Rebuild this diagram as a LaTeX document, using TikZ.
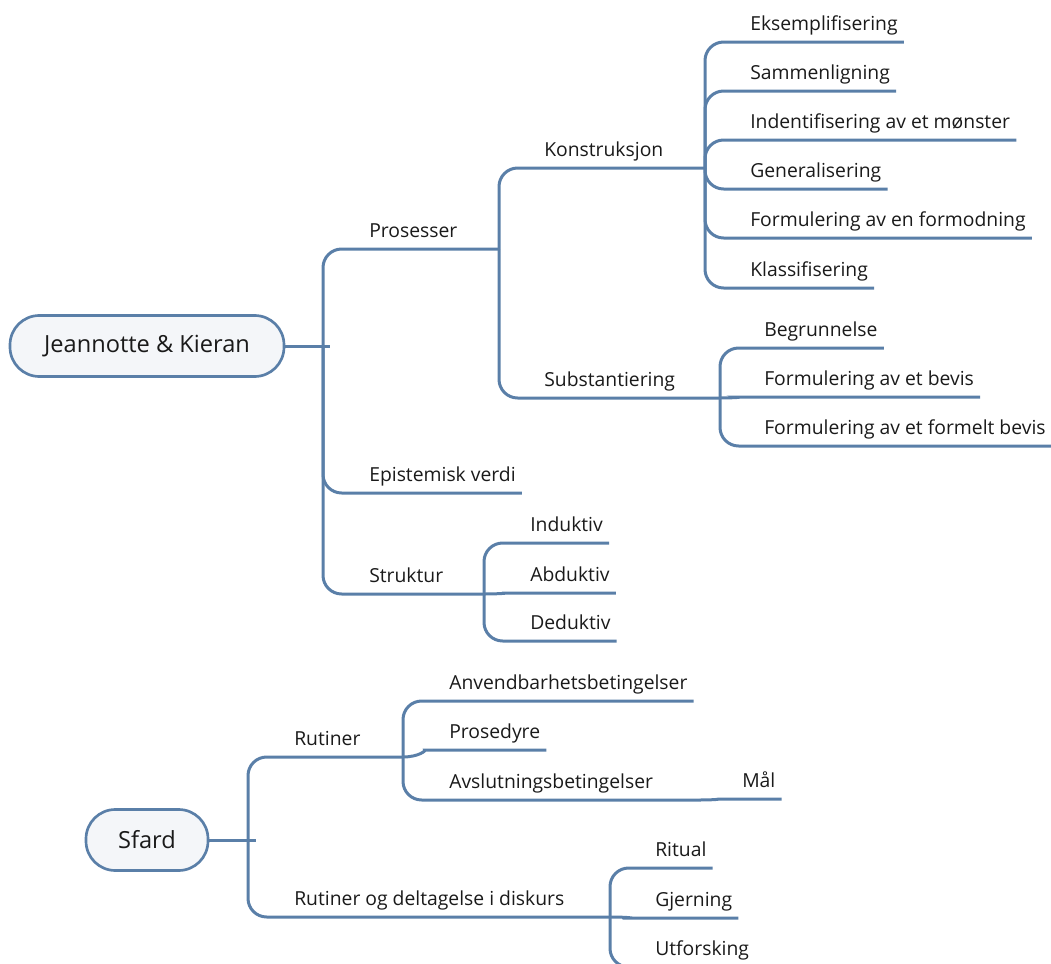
\documentclass[tikz,border=0pt]{standalone}
\usepackage{fontspec}
\setsansfont{Open Sans}
\usepackage{tikz}
\usetikzlibrary{positioning, calc}
\tikzset{every node/.style={font=\sffamily}}
\usepackage{xcolor}
\definecolor{mapblue}{HTML}{5A7FA8}
\definecolor{mapfill}{HTML}{F4F6F9}
\definecolor{mapink}{HTML}{1A1A1A}
\tikzset{
  rootbox/.style={draw=mapblue, fill=mapfill, line width=2pt, rounded corners=22pt,
    minimum height=45.75pt, text=mapink, font=\sffamily\fontsize{17.7}{21}\selectfont},
  topic/.style={anchor=south west, inner xsep=4.5pt, inner ysep=0pt, text depth=8.25pt,
    text=mapink, font=\sffamily\fontsize{14.5}{17}\selectfont},
  branch/.style={draw=mapblue, line width=2.25pt, rounded corners=14pt}
}

\begin{document}
\begin{tikzpicture}[x=0.75pt, y=-0.75pt]
  \useasboundingbox (0,0) rectangle (1051,964);

  % first map
  \node[rootbox, minimum width=205.5pt] (jk) at (147,346) {Jeannotte \& Kieran};
  \coordinate (jk-j) at (323,346);
  \coordinate (jk-t) at (330,346);
  \draw[branch] (jk.east) -- (jk-t);

  \node[topic] (pros) at (363,249) {Prosesser};
  \node[topic] (epi) at (363,493) {Epistemisk verdi};
  \node[topic] (str) at (363,594) {Struktur};
  \coordinate (pros-j) at (499,249);
  \coordinate (str-j) at (484,594);
  \draw[branch] (jk-j) |- (pros-j);
  \draw[branch] (jk-j) |- (epi.south east);
  \draw[branch] (jk-j) |- (str-j);

  \node[topic] (kon) at (538,168) {Konstruksjon};
  \node[topic] (sub) at (538,398) {Substantiering};
  \coordinate (kon-j) at (705,168);
  \coordinate (sub-j) at (720,398);
  \draw[branch] (pros-j) |- (kon-j);
  \draw[branch] (pros-j) |- (sub-j);

  \foreach \name/\txt/\y in {eks/Eksemplifisering/42, sam/Sammenligning/91,
      ind/Indentifisering av et mønster/140, gen/Generalisering/189,
      form/Formulering av en formodning/238, kla/Klassifisering/288} {
    \node[topic] (\name) at (744,\y) {\txt};
    \draw[branch] (kon-j) |- (\name.south east);
  }

  \node[topic] (beg) at (758,348) {Begrunnelse};
  \node[topic] (bev) at (758,397) {Formulering av et bevis};
  \node[topic] (fbev) at (758,446) {Formulering av et formelt bevis};
  \draw[branch] (sub-j) |- (beg.south east);
  \draw[branch] (sub-j) to[out=0, in=180] (bev.south west) -- (bev.south east);
  \draw[branch] (sub-j) |- (fbev.south east);

  \node[topic] (indu) at (524,543) {Induktiv};
  \node[topic] (abdu) at (524,593) {Abduktiv};
  \node[topic] (dedu) at (524,641) {Deduktiv};
  \draw[branch] (str-j) |- (indu.south east);
  \draw[branch] (str-j) to[out=0, in=180] (abdu.south west) -- (abdu.south east);
  \draw[branch] (str-j) |- (dedu.south east);

  % second map
  \node[rootbox, minimum width=91.5pt] (sfard) at (147,840) {Sfard};
  \coordinate (sf-j) at (248,840);
  \coordinate (sf-t) at (256,840);
  \draw[branch] (sfard.east) -- (sf-t);

  \node[topic] (rut) at (288,757) {Rutiner};
  \node[topic] (rdd) at (288,917) {Rutiner og deltagelse i diskurs};
  \coordinate (rut-j) at (403,757);
  \coordinate (rdd-j) at (610,917);
  \draw[branch] (sf-j) |- (rut-j);
  \draw[branch] (sf-j) |- (rdd-j);

  \node[topic] (anv) at (443,701) {Anvendbarhetsbetingelser};
  \node[topic] (prd) at (443,750) {Prosedyre};
  \node[topic] (avs) at (443,800) {Avslutningsbetingelser};
  \coordinate (avs-j) at (700,800);
  \draw[branch] (rut-j) |- (anv.south east);
  \draw[branch] (rut-j) to[out=0, in=180] (prd.south west) -- (prd.south east);
  \draw[branch] (rut-j) |- (avs-j);

  \node[topic] (mal) at (736,799) {Mål};
  \draw[branch] (avs-j) to[out=0, in=180] (mal.south west) -- (mal.south east);

  \node[topic] (rit) at (649,868) {Ritual};
  \node[topic] (gje) at (649,918) {Gjerning};
  \node[topic] (utf) at (649,967) {Utforsking};
  \draw[branch] (rdd-j) |- (rit.south east);
  \draw[branch] (rdd-j) to[out=0, in=180] (gje.south west) -- (gje.south east);
  \draw[branch] (rdd-j) |- (utf.south east);
\end{tikzpicture}
\end{document}
